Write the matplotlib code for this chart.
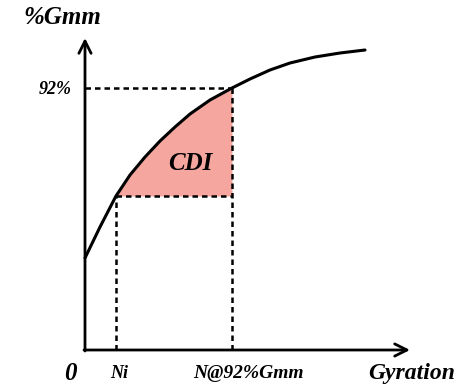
import matplotlib.pyplot as plt
import numpy as np

# densification curve (gyration vs %Gmm, arbitrary units)
gyration = np.array([0, 15, 31, 45, 60, 75, 90, 105, 125, 147, 165, 185, 205, 230, 255, 280])
gmm = np.array([92, 123, 154, 175, 193, 209, 223, 236, 250, 262, 271, 280, 287, 293, 297, 300])

n_i = 31        # Ni
n_92 = 147      # N@92%Gmm
gmm_92 = 262    # 92% level
gmm_ni = 154    # %Gmm at Ni

fig = plt.figure(figsize=(4.71, 3.85), dpi=100)
ax = fig.add_axes([0, 0, 1, 1])
ax.set_xlim(-85, 386)
ax.set_ylim(-35, 350)
ax.axis("off")

font = dict(family="Liberation Serif", fontweight="bold", fontstyle="italic")

# CDI area between the curve and the Ni level
mask = (gyration >= n_i) & (gyration <= n_92)
ax.fill_between(gyration[mask], gmm_ni, gmm[mask], color="#f4a69f", lw=0, zorder=1)

# dashed guide lines
dash = dict(color="black", lw=1.8, linestyle=(0, (2.2, 1.6)), zorder=2)
ax.plot([0, n_92], [gmm_92, gmm_92], **dash)
ax.plot([n_92, n_92], [0, gmm_92], **dash)
ax.plot([n_i, n_92], [gmm_ni, gmm_ni], **dash)
ax.plot([n_i, n_i], [0, gmm_ni], **dash)

ax.plot(gyration, gmm, color="black", lw=2.2, zorder=3,
        solid_capstyle="round", solid_joinstyle="round")

# axes with arrow heads
arrow = dict(arrowstyle="->", lw=2, color="black", mutation_scale=22, shrinkA=0, shrinkB=0)
ax.annotate("", xy=(0, 312), xytext=(0, -1), arrowprops=arrow)
ax.annotate("", xy=(325, 0), xytext=(-1, 0), arrowprops=arrow)

ax.text(-23, 332, "%Gmm", fontsize=18, ha="center", va="center", **font)
ax.text(-30, 260, "92%", fontsize=13, ha="center", va="center", **font)
ax.text(105, 187, "CDI", fontsize=18, ha="center", va="center", **font)
ax.text(-15, -23, "0", fontsize=18, ha="center", va="center", **font)
ax.text(n_i + 3, -23, "Ni", fontsize=13, ha="center", va="center", **font)
ax.text(n_92 + 16, -23, "N@92%Gmm", fontsize=14, ha="center", va="center", **font)
ax.text(327, -23, "Gyration", fontsize=17, ha="center", va="center", **font)

fig.savefig("out.png", dpi=100)
